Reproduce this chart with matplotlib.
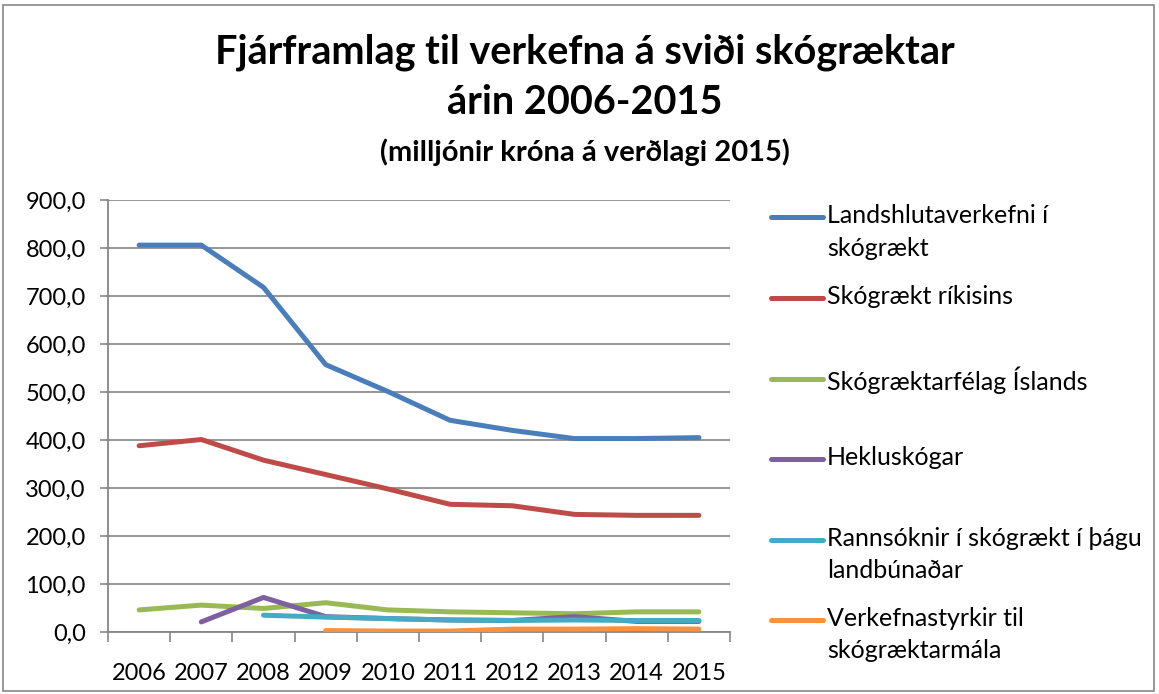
import matplotlib
matplotlib.use("Agg")
import matplotlib.pyplot as plt
import numpy as np
from matplotlib.lines import Line2D
from matplotlib.patches import Rectangle
from matplotlib.ticker import FuncFormatter

years = ["2006", "2007", "2008", "2009", "2010", "2011", "2012", "2013", "2014", "2015"]
landshluta = [806, 806, 718, 557, 501, 441, 420, 403, 403, 405]
rikisins = [388, 401, 358, 328, 298, 266, 263, 245, 243, 243]
felag = [46, 56, 49, 61, 46, 42, 40, 38, 42, 42]
hekla = [None, 21, 72, 32, 28, 25, 24, 32, 22, 22]
rannsoknir = [None, None, 35, 31, 28, 25, 24, 25, 24, 24]
styrkir = [None, None, None, 3, 2, 2, 6, 6, 7, 6]

labels = ["Landshlutaverkefni í\nskógrækt", "Skógrækt ríkisins", "Skógræktarfélag Íslands",
          "Hekluskógar", "Rannsóknir í skógrækt í þágu\nlandbúnaðar", "Verkefnastyrkir til\nskógræktarmála"]
series = [landshluta, rikisins, felag, hekla, rannsoknir, styrkir]
colors = ["#4A7EBB", "#BE4B48", "#98B954", "#7D60A0", "#46AAC5", "#F69240"]
yticks = [0, 100, 200, 300, 400, 500, 600, 700, 800, 900]

plt.rcParams['font.family'] = ['Lato', 'DejaVu Sans']
W, H = 1159, 694
fig = plt.figure(figsize=(W / 100, H / 100), dpi=100)
fig.add_artist(Rectangle((3 / W, 3 / H), (W - 8) / W, (H - 8) / H, transform=fig.transFigure,
                         fill=False, edgecolor="#868686", lw=1.2))

ax = fig.add_axes([108 / W, (H - 632) / H, 622 / W, 432 / H])
x = np.arange(len(years))
for vals, c in zip(series, colors):
    arr = np.array([np.nan if v is None else v for v in vals], dtype=float)
    ax.plot(x, arr, color=c, lw=3.6, solid_capstyle="round", solid_joinstyle="round", zorder=3)

ax.set_xlim(-0.5, len(years) - 0.5)
ax.set_ylim(0, 900)
ax.set_yticks(yticks)
ax.yaxis.set_major_formatter(FuncFormatter(lambda v, p: f"{v:.1f}".replace(".", ",")))
ax.set_xticks(x)
ax.set_xticklabels(years)
ax.set_xticks(np.arange(-0.5, len(years), 1), minor=True)
ax.tick_params(axis="x", which="major", length=0, labelsize=17, pad=22)
ax.tick_params(axis="x", which="minor", length=7, color="#868686", width=1.2)
ax.tick_params(axis="y", which="major", length=6, color="#868686", width=1.2, labelsize=17, pad=10)
ax.grid(axis="y", color="#8C8C8C", lw=1.3)
ax.set_axisbelow(True)
for s in ["top", "right"]:
    ax.spines[s].set_visible(False)
for s in ["left", "bottom"]:
    ax.spines[s].set_color("#868686")
    ax.spines[s].set_linewidth(1.3)

fig.text(585 / W, 1 - 52 / H, "Fjárframlag til verkefna á sviði skógræktar", ha="center", va="center",
         fontsize=28.5, fontweight="bold")
fig.text(585 / W, 1 - 102 / H, "árin 2006-2015", ha="center", va="center", fontsize=28.5, fontweight="bold")
fig.text(585 / W, 1 - 152 / H, "(milljónir króna á verðlagi 2015)", ha="center", va="center",
         fontsize=21, fontweight="bold")

ys = [217, 298, 379, 459, 540, 620]
for lab, c, yy in zip(labels, colors, ys):
    fig.add_artist(Line2D([771 / W, 823 / W], [1 - yy / H, 1 - yy / H], color=c, lw=3.6,
                          solid_capstyle="round", transform=fig.transFigure))
    fig.text(827 / W, 1 - (yy - 13) / H, lab, ha="left", va="top", fontsize=18, linespacing=1.5)

fig.savefig("out.png", dpi=100)
